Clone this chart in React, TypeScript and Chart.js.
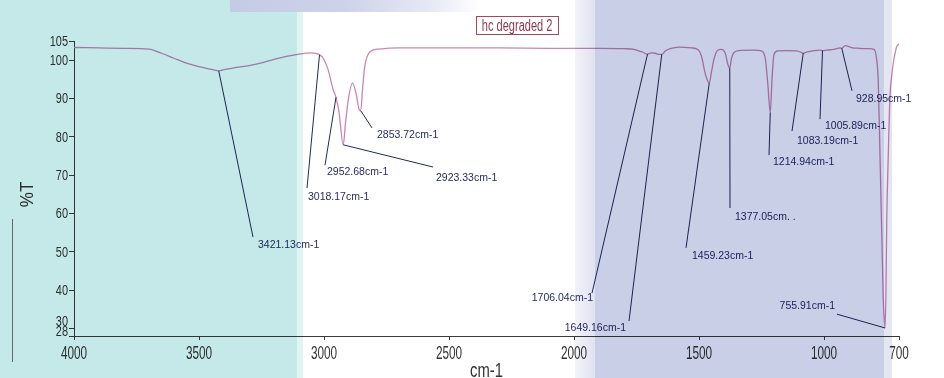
import React, { useEffect, useRef } from "react";
import { Chart, registerables } from "chart.js";

Chart.register(...registerables);

// Spectrum: wavenumber (cm-1) and transmittance (%T)
const wavenumbers = [
  4000, 3900, 3800, 3700, 3650, 3600, 3550, 3500, 3450, 3421, 3400, 3350, 3300, 3250, 3200, 3150,
  3100, 3050, 3030, 3018, 3003, 2983, 2963, 2952, 2940, 2923, 2914, 2903, 2886, 2872, 2860, 2853,
  2845, 2836, 2816, 2780, 2700, 2500, 2300, 2100, 1900, 1800, 1760, 1730, 1706, 1690, 1675, 1660,
  1649, 1635, 1615, 1580, 1530, 1505, 1490, 1475, 1459, 1450, 1440, 1425, 1410, 1395, 1385, 1377,
  1370, 1360, 1340, 1280, 1250, 1235, 1225, 1215, 1208, 1200, 1185, 1150, 1110, 1090, 1083, 1070,
  1040, 1015, 1006, 990, 960, 935, 929, 915, 890, 860, 820, 800, 790, 783, 776, 769, 763, 758,
  756, 752, 749, 743, 736, 728, 723, 715, 709, 700,
];
const transmittance = [
  103.3, 103.2, 103.1, 102.9, 101.8, 100.5, 99.2, 98.3, 97.6, 97.2, 97.5, 98.1, 98.6, 99.3, 100.2, 101.0,
  101.6, 101.9, 101.7, 101.4, 100.5, 97.4, 92.2, 90.3, 86.5, 77.9, 83.5, 89.6, 94.0, 91.4, 87.2, 86.8,
  93.1, 98.7, 102.2, 102.9, 103.2, 103.2, 103.2, 103.1, 103.1, 103.0, 102.8, 102.2, 101.6, 101.9, 101.8, 101.5,
  101.5, 102.4, 103.0, 103.4, 103.2, 102.8, 101.0, 96.5, 94.0, 97.0, 100.3, 102.6, 102.8, 101.8, 99.0, 97.9,
  100.5, 102.0, 102.5, 102.6, 102.4, 100.5, 94.0, 86.3, 95.0, 101.5, 102.4, 102.5, 102.4, 102.0, 101.8, 102.1,
  102.5, 102.6, 102.5, 102.6, 102.8, 103.2, 103.1, 103.8, 103.3, 103.1, 103.0, 102.8, 100.5, 94.5, 75.0, 55.0, 38.0, 31.5,
  30.1, 40.0, 58.0, 75.0, 90.5, 96.5, 99.2, 102.0, 103.6, 104.2,
];

const xTickValues = [4000, 3500, 3000, 2500, 2000, 1500, 1000, 700];
const yTickValues = [28, 30, 40, 50, 60, 70, 80, 90, 100, 105];
const xTitle = "cm-1";
const yTitle = "%T";
const chartTitle = "hc degraded 2";

// Peak annotations
const peakLabels = [
  "3421.13cm-1", "3018.17cm-1", "2952.68cm-1", "2923.33cm-1", "2853.72cm-1", "1706.04cm-1", "1649.16cm-1",
  "1459.23cm-1", "1377.05cm. .", "1214.94cm-1", "1083.19cm-1", "1005.89cm-1", "928.95cm-1", "755.91cm-1",
];
const peakWn = [3421, 3018, 2952, 2923, 2853, 1706, 1649, 1459, 1377, 1215, 1083, 1006, 929, 756];
const peakT = [97.2, 101.4, 90.3, 77.9, 86.8, 101.6, 101.5, 94.0, 97.9, 86.3, 101.8, 102.5, 103.1, 30.1];
const leaderEndWn = [3284, 3068, 2996, 2564, 2808, 1928, 1780, 1552, 1376, 1220, 1128, 1016, 888, 948];
const leaderEndT = [53.8, 66.6, 72.6, 72.1, 82.3, 39.2, 31.9, 51.0, 61.4, 75.2, 81.5, 84.6, 92.0, 33.7];
const labelWn = [3264, 3064, 2988, 2552, 2788, 1924, 1792, 1528, 1356, 1204, 1108, 996, 872, 956];
const labelT = [51.8, 64.3, 70.8, 69.2, 80.5, 37.9, 30.1, 48.9, 59.1, 73.4, 78.9, 82.8, 89.9, 35.8];
const labelAlign = ["left", "left", "left", "left", "left", "right", "right", "left", "left", "left", "left", "left", "left", "right"];

const SANS = "'Liberation Sans', Arial, sans-serif";

const peakAnnotations = {
  id: "peakAnnotations",
  afterDatasetsDraw(chart: any) {
    const { ctx, scales } = chart;
    const xs = scales.x;
    const ys = scales.y;
    ctx.save();
    ctx.strokeStyle = "#1f2a5c";
    ctx.lineWidth = 1;
    ctx.fillStyle = "#262c66";
    ctx.font = "10.5px " + SANS;
    ctx.textBaseline = "middle";
    for (let i = 0; i < peakLabels.length; i++) {
      const x0 = xs.getPixelForValue(peakWn[i]);
      const y0 = ys.getPixelForValue(peakT[i]);
      const x1 = xs.getPixelForValue(leaderEndWn[i]);
      const y1 = ys.getPixelForValue(leaderEndT[i]);
      ctx.beginPath();
      ctx.moveTo(x0, y0);
      ctx.lineTo(x1, y1);
      ctx.stroke();
      ctx.textAlign = labelAlign[i];
      ctx.fillText(peakLabels[i], xs.getPixelForValue(labelWn[i]), ys.getPixelForValue(labelT[i]));
    }
    ctx.restore();
  },
};

// Condensed axis labels drawn from the scales' own ticks
const axisText = {
  id: "axisText",
  afterDraw(chart: any) {
    const { ctx, scales, chartArea } = chart;
    const xs = scales.x;
    const ys = scales.y;
    ctx.save();
    ctx.fillStyle = "#333";
    // y tick labels
    ctx.font = "14px " + SANS;
    ctx.textAlign = "right";
    ctx.textBaseline = "alphabetic";
    const yTicks = [...ys.ticks].sort((a: any, b: any) => a.value - b.value);
    let prevCenter = Infinity;
    for (const t of yTicks) {
      let cy = ys.getPixelForValue(t.value);
      cy = Math.min(cy, chartArea.bottom - 5, prevCenter - 10);
      prevCenter = cy;
      ctx.save();
      ctx.translate(ys.right - 6, cy + 5);
      ctx.scale(0.78, 1);
      ctx.fillText(String(t.value), 0, 0);
      ctx.restore();
    }
    // x tick labels
    ctx.font = "19px " + SANS;
    ctx.textAlign = "center";
    for (const t of xs.ticks) {
      const cx = xs.getPixelForValue(t.value);
      ctx.save();
      ctx.translate(cx, chartArea.bottom + 23);
      ctx.scale(0.62, 1);
      ctx.fillText(String(t.value), 0, 0);
      ctx.restore();
    }
    // x title
    ctx.font = "19.5px " + SANS;
    ctx.save();
    ctx.translate((chartArea.left + chartArea.right) / 2, chartArea.bottom + 41);
    ctx.scale(0.76, 1);
    ctx.fillText(xTitle, 0, 0);
    ctx.restore();
    // y title
    ctx.font = "18px " + SANS;
    ctx.save();
    ctx.translate(33, (chartArea.top + chartArea.bottom) / 2 + 6);
    ctx.rotate(-Math.PI / 2);
    ctx.scale(0.95, 1);
    ctx.fillText(yTitle, 0, 0);
    ctx.restore();
    ctx.restore();
  },
};

export default function App() {
  const canvasRef = useRef<HTMLCanvasElement | null>(null);

  useEffect(() => {
    const canvas = canvasRef.current;
    if (!canvas) return;
    const points = wavenumbers.map((w, i) => ({ x: w, y: transmittance[i] }));
    const chart = new Chart(canvas, {
      type: "scatter",
      data: {
        datasets: [
          {
            label: chartTitle,
            data: points,
            showLine: true,
            borderColor: "#c986b2",
            borderWidth: 1.3,
            pointRadius: 0,
            cubicInterpolationMode: "monotone",
          },
        ],
      },
      options: {
        animation: false,
        responsive: false,
        devicePixelRatio: 1,
        layout: { padding: { top: 41, right: 45, bottom: 0, left: 0 } },
        plugins: { legend: { display: false }, tooltip: { enabled: false } },
        scales: {
          x: {
            type: "linear",
            min: 700,
            max: 4000,
            reverse: true,
            afterBuildTicks: (s: any) => {
              s.ticks = xTickValues.map((v) => ({ value: v }));
            },
            afterFit: (s: any) => {
              s.height = 42;
            },
            ticks: { display: false, autoSkip: false, maxRotation: 0 },
            grid: { drawOnChartArea: false, tickLength: 4, color: "#3a3a3a" },
            border: { display: true, color: "#3a3a3a", width: 1 },
          },
          y: {
            min: 28,
            max: 105,
            afterBuildTicks: (s: any) => {
              s.ticks = yTickValues.map((v) => ({ value: v }));
            },
            afterFit: (s: any) => {
              s.width = 74;
            },
            ticks: { display: false, autoSkip: false },
            grid: { drawOnChartArea: false, tickLength: 5, color: "#3a3a3a" },
            border: { display: true, color: "#3a3a3a", width: 1 },
          },
        },
      },
      plugins: [peakAnnotations, axisText],
    } as any);
    return () => chart.destroy();
  }, []);

  const overlay = (left: number, width: number, bg: string, top = 0, height = 378): React.CSSProperties => ({
    position: "absolute",
    left,
    top,
    width,
    height,
    background: bg,
    mixBlendMode: "multiply",
    pointerEvents: "none",
  });

  return (
    <div style={{ position: "fixed", left: 0, top: 0, width: 944, height: 378, background: "#fff", overflow: "hidden" }}>
      <canvas ref={canvasRef} width={944} height={378} style={{ display: "block", width: 944, height: 378 }} />
      <div style={overlay(0, 297, "#c5e9e8")} />
      <div style={overlay(297, 6, "#e2f3f3")} />
      <div style={overlay(575, 20, "linear-gradient(to right, #f2f3f9, #dfe3f0)")} />
      <div style={overlay(595, 289, "#c9cfe6")} />
      <div style={overlay(884, 8, "#e4e7f2")} />
      <div
        style={{
          position: "absolute",
          left: 230,
          top: 0,
          width: 250,
          height: 12,
          background: "linear-gradient(to right, #c4cbe4 0%, #ccd2e9 45%, #e6e9f4 80%, #ffffff 100%)",
          pointerEvents: "none",
        }}
      />
      <div style={{ position: "absolute", left: 12, top: 219, width: 1, height: 143, background: "#666" }} />
      <div
        style={{
          position: "absolute",
          left: 476,
          top: 16,
          width: 81,
          height: 17,
          border: "1px solid #a24a5c",
          color: "#8e3a4c",
          fontFamily: SANS,
          fontSize: 16,
          lineHeight: "17px",
          textAlign: "center",
          whiteSpace: "nowrap",
          overflow: "visible",
        }}
      >
        <span style={{ display: "inline-block", transform: "scaleX(0.69)", transformOrigin: "center", marginLeft: -20, marginRight: -20 }}>
          {chartTitle}
        </span>
      </div>
    </div>
  );
}
